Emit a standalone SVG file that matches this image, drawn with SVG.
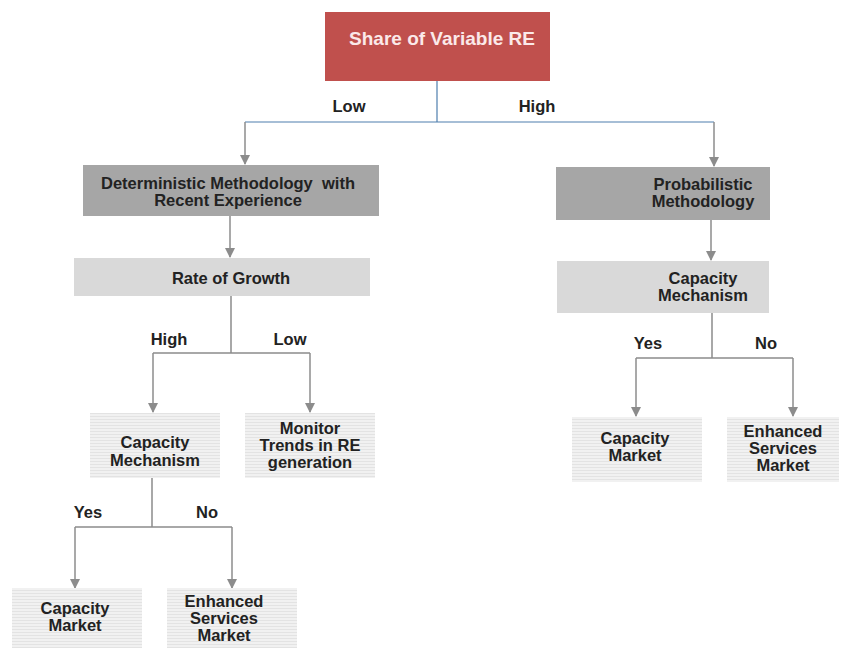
<svg xmlns="http://www.w3.org/2000/svg" width="845" height="648" viewBox="0 0 845 648">
  <defs>
    <marker id="arrow" markerWidth="10" markerHeight="10" refX="9" refY="5" orient="auto" markerUnits="userSpaceOnUse">
      <path d="M0,0 L10,5 L0,10 Z" fill="#8c8c8c"/>
    </marker>
    <pattern id="stripes" width="6" height="3" patternUnits="userSpaceOnUse">
      <rect width="6" height="3" fill="#f1f1f1"/>
      <rect y="2" width="6" height="1" fill="#e3e3e3"/>
    </pattern>
    <style>
      text { font-family: "Liberation Sans", Arial, sans-serif; font-weight: bold; font-size: 16.5px; fill: #222222; text-anchor: middle; }
      .root text { fill: #fbe9e9; font-size: 19px; }
      .dark rect { fill: #a6a6a6; }
      .mid rect { fill: #d9d9d9; }
      .light rect { fill: url(#stripes); }
      .conn { fill: none; stroke: #8c8c8c; stroke-width: 1.5; }
      .blue { fill: none; stroke: #4f7fae; stroke-width: 1.2; }
    </style>
  </defs>
  <rect width="845" height="648" fill="#ffffff"/>

  <g id="connectors">
    <path class="blue" d="M437,81 V122 M245,122 H714"/>
    <path class="conn" d="M245,122 V164" marker-end="url(#arrow)"/>
    <path class="conn" d="M714,122 V166" marker-end="url(#arrow)"/>
    <path class="conn" d="M230,216 V257" marker-end="url(#arrow)"/>
    <path class="conn" d="M711,220 V260" marker-end="url(#arrow)"/>
    <path class="conn" d="M231,296 V353 M153,353 H310"/>
    <path class="conn" d="M153,353 V412" marker-end="url(#arrow)"/>
    <path class="conn" d="M310,353 V412" marker-end="url(#arrow)"/>
    <path class="conn" d="M152,478 V527 M75,527 H232"/>
    <path class="conn" d="M75,527 V588" marker-end="url(#arrow)"/>
    <path class="conn" d="M232,527 V588" marker-end="url(#arrow)"/>
    <path class="conn" d="M712,313 V358 M636,358 H793"/>
    <path class="conn" d="M636,358 V416" marker-end="url(#arrow)"/>
    <path class="conn" d="M793,358 V416" marker-end="url(#arrow)"/>
    <text x="349" y="112">Low</text>
    <text x="537" y="112">High</text>
    <text x="169" y="345">High</text>
    <text x="290" y="345">Low</text>
    <text x="88" y="518">Yes</text>
    <text x="207" y="518">No</text>
    <text x="648" y="349">Yes</text>
    <text x="766" y="349">No</text>
  </g>

  <g id="share" class="root">
    <rect x="325" y="12" width="225" height="69" fill="#c0504d"/>
    <text x="442" y="45">Share of Variable RE</text>
  </g>

  <g id="deterministic" class="dark">
    <rect x="83" y="165" width="296" height="51"/>
    <text x="228" y="189" xml:space="preserve">Deterministic Methodology  with</text>
    <text x="228" y="206">Recent Experience</text>
  </g>

  <g id="probabilistic" class="dark">
    <rect x="556" y="167" width="214" height="53"/>
    <text x="703" y="190">Probabilistic</text>
    <text x="703" y="207">Methodology</text>
  </g>

  <g id="growth" class="mid">
    <rect x="74" y="258" width="296" height="38"/>
    <text x="231" y="284">Rate of Growth</text>
  </g>

  <g id="mechanism-right" class="mid">
    <rect x="557" y="261" width="212" height="52"/>
    <text x="703" y="284">Capacity</text>
    <text x="703" y="301">Mechanism</text>
  </g>

  <g id="mechanism-left" class="light">
    <rect x="90" y="413" width="130" height="65"/>
    <text x="155" y="448">Capacity</text>
    <text x="155" y="466">Mechanism</text>
  </g>

  <g id="monitor" class="light">
    <rect x="245" y="413" width="130" height="65"/>
    <text x="310" y="434">Monitor</text>
    <text x="310" y="451">Trends in RE</text>
    <text x="310" y="468">generation</text>
  </g>

  <g id="market-left" class="light">
    <rect x="12" y="588" width="130" height="60"/>
    <text x="75" y="614">Capacity</text>
    <text x="75" y="631">Market</text>
  </g>

  <g id="services-left" class="light">
    <rect x="167" y="588" width="130" height="60"/>
    <text x="224" y="607">Enhanced</text>
    <text x="224" y="624">Services</text>
    <text x="224" y="641">Market</text>
  </g>

  <g id="market-right" class="light">
    <rect x="572" y="417" width="130" height="65"/>
    <text x="635" y="444">Capacity</text>
    <text x="635" y="461">Market</text>
  </g>

  <g id="services-right" class="light">
    <rect x="727" y="417" width="112" height="65"/>
    <text x="783" y="437">Enhanced</text>
    <text x="783" y="454">Services</text>
    <text x="783" y="471">Market</text>
  </g>
</svg>
